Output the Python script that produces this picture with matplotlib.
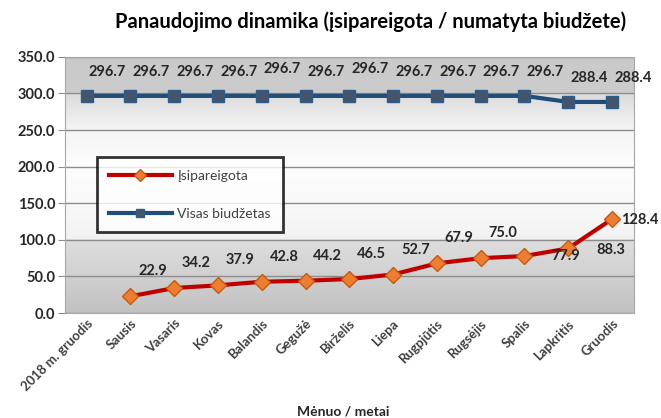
import numpy as np
import matplotlib.pyplot as plt
from matplotlib.colors import LinearSegmentedColormap

plt.rcParams["font.family"] = ["Lato", "DejaVu Sans"]

months = ["2018 m. gruodis", "Sausis", "Vasaris", "Kovas", "Balandis", "Gegužė",
          "Birželis", "Liepa", "Rugpjūtis", "Rugsėjis", "Spalis", "Lapkritis", "Gruodis"]
committed = [np.nan, 22.9, 34.2, 37.9, 42.8, 44.2, 46.5, 52.7, 67.9, 75.0, 77.9, 88.3, 128.4]
budget = [296.7, 296.7, 296.7, 296.7, 296.7, 296.7, 296.7, 296.7, 296.7, 296.7, 296.7, 288.4, 288.4]

fig = plt.figure(figsize=(6.61, 4.18), dpi=100)
ax = fig.add_axes([0.098, 0.251, 0.861, 0.613])

x = np.arange(len(months))
ax.set_xlim(-0.5, len(months) - 0.5)
ax.set_ylim(0, 350)

# banded grey background, like the excel fill
stops = [(0.0, 0.76), (99 / 350, 0.87), (101 / 350, 0.95), (150 / 350, 0.975),
         (200 / 350, 0.99), (250 / 350, 0.96), (299 / 350, 0.86), (301 / 350, 0.80), (1.0, 0.79)]
cmap = LinearSegmentedColormap.from_list("bg", [(p, (g, g, g)) for p, g in stops])
grad = np.linspace(0, 1, 512).reshape(-1, 1)
ax.imshow(grad, cmap=cmap, aspect="auto", origin="lower", extent=(-0.5, len(months) - 0.5, 0, 350),
          zorder=0, vmin=0, vmax=1)

ax.set_yticks(np.arange(0, 351, 50))
ax.set_yticklabels([f"{v:.1f}" for v in np.arange(0, 351, 50)], fontweight="bold", fontsize=10.5, color="#262626")
ax.grid(axis="y", color="#8c8c8c", linewidth=1, zorder=1)
ax.tick_params(axis="y", length=5, color="#8c8c8c", pad=2)
ax.tick_params(axis="x", length=0, pad=3)
for s in ax.spines.values():
    s.set_color("#a6a6a6")

ax.plot(x, committed, color="#c00000", linewidth=3, marker="D", markersize=8,
        markerfacecolor="#ed7d31", markeredgecolor="#c55a11", label="Įsipareigota", zorder=3)
ax.plot(x, budget, color="#1f4e79", linewidth=3, marker="s", markersize=9,
        markerfacecolor="#44546a", markeredgecolor="#2e5c8a", label="Visas biudžetas", zorder=3)

for i, v in enumerate(budget):
    dy = 17 if i not in (4, 6) else 19.5
    ax.annotate(f"{v:.1f}", (x[i], v), xytext=(15, dy), textcoords="offset points",
                ha="center", va="center", fontweight="bold", fontsize=10.5, color="#262626")

for i, v in enumerate(committed):
    if np.isnan(v):
        continue
    off = (16, 18)
    if i == 10:
        off = (30, 0)
    elif i == 11:
        off = (31, -1)
    elif i == 12:
        off = (20, -1)
    ax.annotate(f"{v:.1f}", (x[i], v), xytext=off, textcoords="offset points",
                ha="center", va="center", fontweight="bold", fontsize=10.5, color="#262626")

ax.set_xticks(x)
ax.set_xticklabels(months, rotation=45, ha="right", rotation_mode="anchor",
                   fontweight="bold", fontsize=9.5, color="#404040")
ax.set_xlabel("Mėnuo / metai", fontweight="bold", fontsize=10, color="#262626", labelpad=2)
ax.xaxis.set_label_coords(0.49, -0.36)

leg = ax.legend(loc="upper left", bbox_to_anchor=(0.056, 0.609), handlelength=4.5,
                labelspacing=1.9, fontsize=10, frameon=True, fancybox=False,
                borderpad=0.9, handletextpad=0.4, borderaxespad=0)
leg.get_frame().set_edgecolor("black")
leg.get_frame().set_linewidth(2)
for t in leg.get_texts():
    t.set_color("#404040")
for h in leg.legend_handles:
    h.set_markersize(6)
    h.set_linewidth(3)

fig.text(0.56, 0.948, "Panaudojimo dinamika (įsipareigota / numatyta biudžete)",
         ha="center", va="center", fontweight="bold", fontsize=14.5, color="black")

fig.savefig("out.png", dpi=100)
